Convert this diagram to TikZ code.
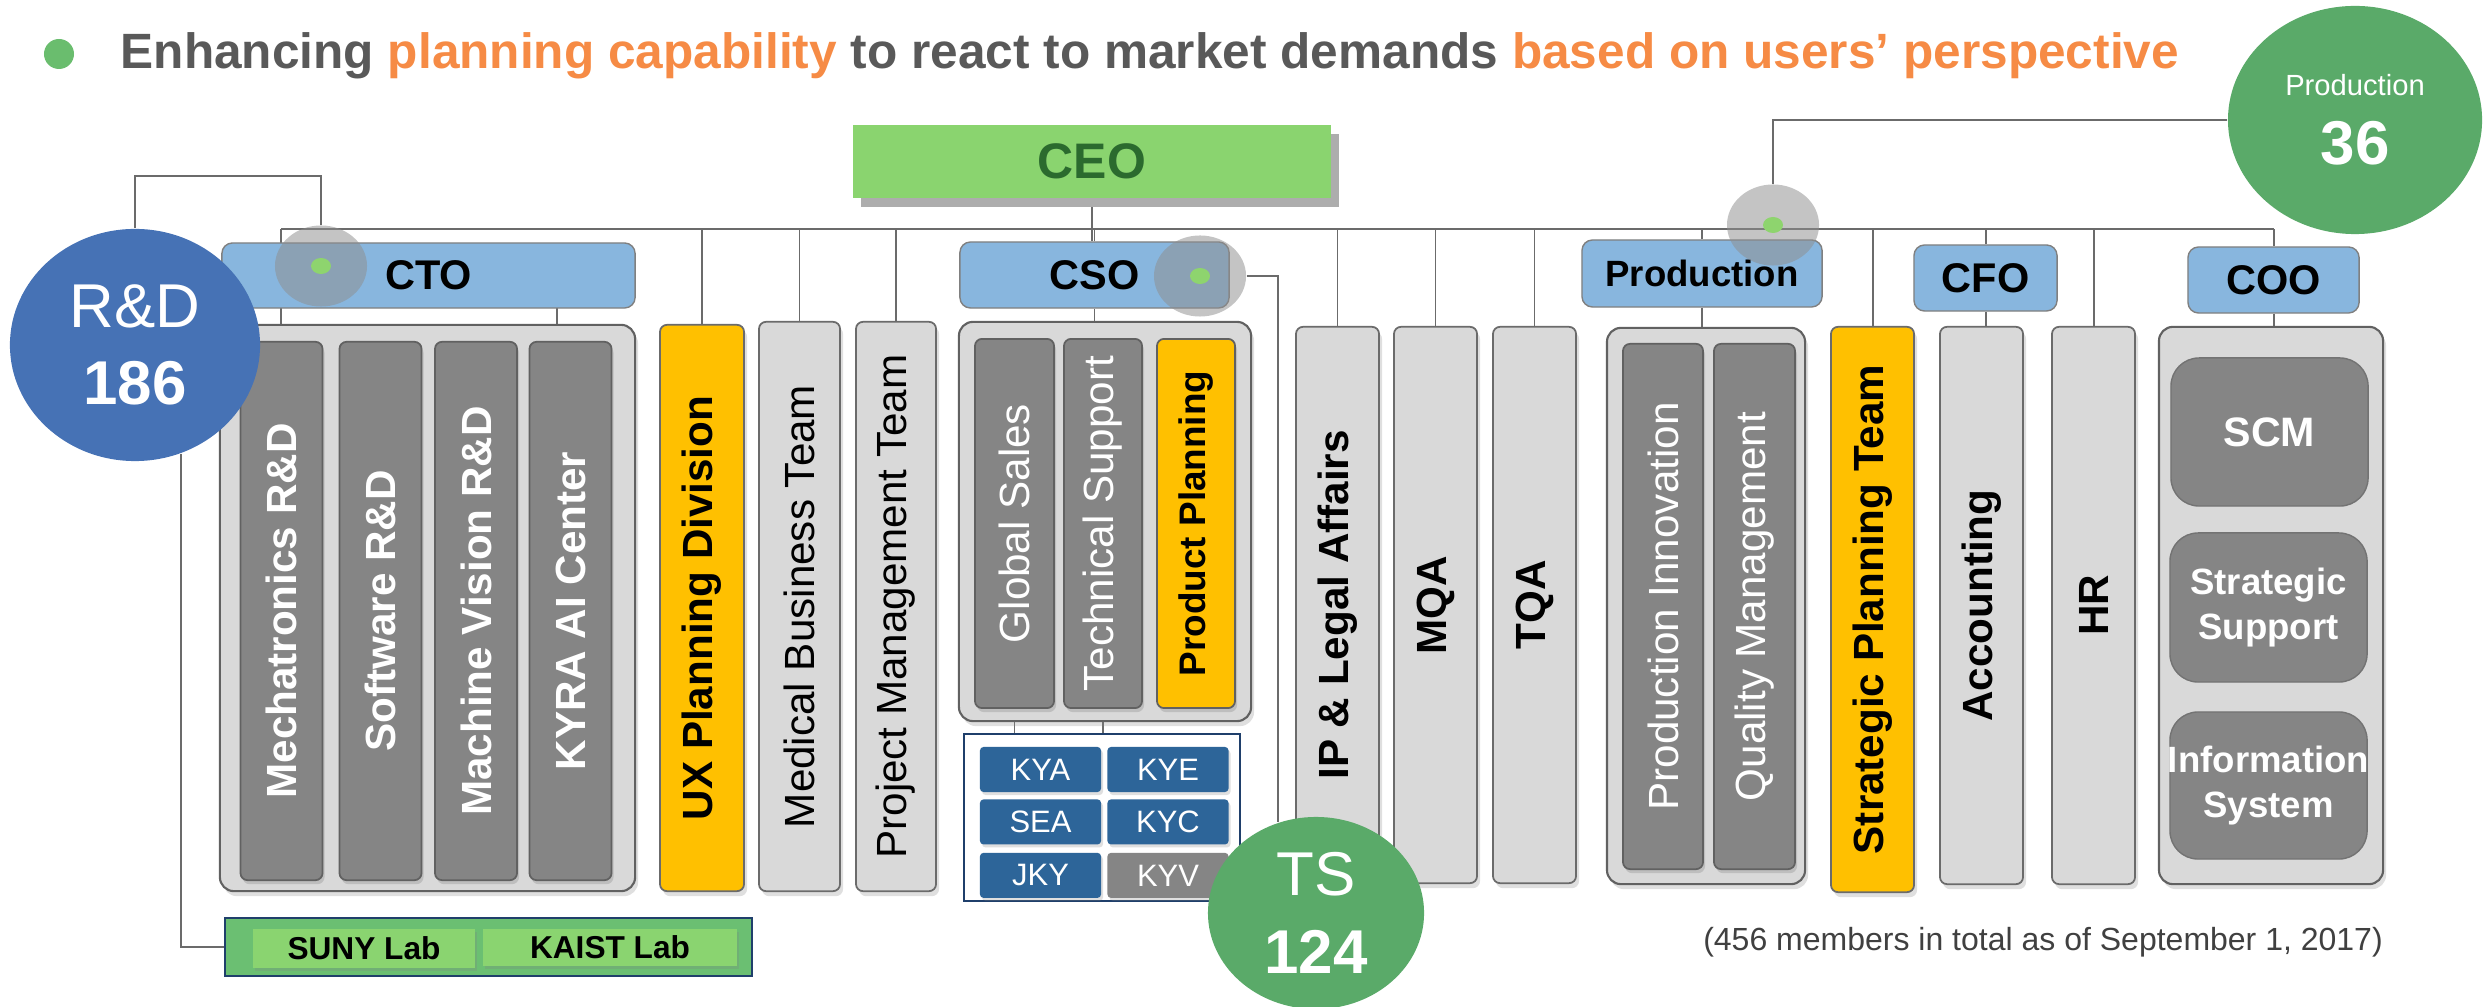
\documentclass[tikz,border=0pt]{standalone}
\usepackage{fontspec}
\setmainfont{Liberation Sans}
\usetikzlibrary{positioning, shapes.geometric, shadows, backgrounds}
\definecolor{titlegray}{HTML}{595959}
\definecolor{accent}{HTML}{F68B45}
\definecolor{bulletgreen}{HTML}{6ABD6E}
\definecolor{ceogreen}{HTML}{8AD46F}
\definecolor{ceotext}{HTML}{2B6A2E}
\definecolor{hdrblue}{HTML}{88B6DE}
\definecolor{panelgray}{HTML}{D9D9D9}
\definecolor{unitgray}{HTML}{858585}
\definecolor{hotyellow}{HTML}{FFC000}
\definecolor{kyblue}{HTML}{2D6599}
\definecolor{kyframe}{HTML}{1F3F6B}
\definecolor{labgreen}{HTML}{6BBF72}
\definecolor{labcell}{HTML}{8AD470}
\definecolor{rdblue}{HTML}{4672B5}
\definecolor{countgreen}{HTML}{5AAA69}
\definecolor{hlgray}{RGB}{142,142,142}
\definecolor{dotgreen}{HTML}{8ED46E}
\definecolor{notegray}{HTML}{404040}
\tikzstyle{link} = [draw=black!58, line width=0.55pt]
\tikzstyle{ceobox} = [rectangle, fill=ceogreen, text=ceotext, inner sep=0, font=\fontsize{14.2}{17}\selectfont\bfseries, drop shadow={shadow xshift=0.08cm, shadow yshift=-0.09cm, fill=black!32, opacity=1}]
\tikzstyle{hdr} = [rectangle, rounded corners=3pt, draw=black!50, fill=hdrblue, inner sep=0, font=\fontsize{11.8}{13}\selectfont\bfseries]
\tikzstyle{group} = [rectangle, rounded corners=4pt, draw=black!62, fill=panelgray, line width=0.6pt, drop shadow={shadow xshift=0.03cm, shadow yshift=-0.05cm, opacity=0.25}]
\tikzstyle{team} = [rectangle, rounded corners=2pt, draw=black!58, fill=panelgray, line width=0.5pt, drop shadow={shadow xshift=0.03cm, shadow yshift=-0.05cm, opacity=0.25}]
\tikzstyle{hot} = [team, fill=hotyellow]
\tikzstyle{unit} = [rectangle, rounded corners=2pt, draw=black!62, fill=unitgray, line width=0.5pt, drop shadow={shadow xshift=0.02cm, shadow yshift=-0.04cm, opacity=0.3}]
\tikzstyle{opsbox} = [rectangle, rounded corners=8pt, draw=black!55, fill=unitgray, text=white, inner sep=0, align=center]
\tikzstyle{vtext} = [rotate=90, inner sep=0, font=\fontsize{12}{14}\selectfont]
\tikzstyle{vtextb} = [rotate=90, inner sep=0, font=\fontsize{12}{14}\selectfont\bfseries]
\tikzstyle{cell} = [rectangle, rounded corners=1pt, fill=kyblue, text=white, inner sep=0, minimum width=1.21cm, minimum height=0.45cm, font=\fontsize{8.8}{10}\selectfont, drop shadow={shadow xshift=0.02cm, shadow yshift=-0.03cm, opacity=0.25}]
\tikzstyle{labcellbox} = [rectangle, fill=labcell, inner sep=0, font=\fontsize{9}{10}\selectfont\bfseries, drop shadow={shadow xshift=0.02cm, shadow yshift=-0.03cm, opacity=0.25}]
\tikzstyle{headcount} = [ellipse, inner sep=0, text=white, align=center]
\tikzstyle{hilite} = [ellipse, fill=hlgray, fill opacity=0.52, inner sep=0, minimum width=0.92cm, minimum height=0.81cm]
\tikzstyle{greendot} = [ellipse, fill=dotgreen, inner sep=0, minimum width=0.2cm, minimum height=0.16cm]
\pgfdeclarelayer{background}
\pgfsetlayers{background,main}

\begin{document}
\begin{tikzpicture}[x=0.01cm, y=-0.01cm]
\useasboundingbox (0,0) rectangle (2486,1007);

% headline
\node (bullet) [circle, fill=bulletgreen, minimum size=0.3cm, inner sep=0] at (59,54) {};
\node (title) [anchor=base west, inner sep=0, text=titlegray, font=\fontsize{14.1}{17}\selectfont\bfseries] at (120,69) {Enhancing \textcolor{accent}{planning capability} to react to market demands \textcolor{accent}{based on users’ perspective}};

% top of the chart
\node (ceo) [ceobox, minimum width=4.78cm, minimum height=0.73cm] at (1092,161.5) {CEO};
\node (cto) [hdr, minimum width=4.13cm, minimum height=0.65cm] at (428.5,275.5) {CTO};
\node (cso) [hdr, minimum width=2.69cm, minimum height=0.66cm] at (1094.5,275) {CSO};
\node (prod) [hdr, font=\fontsize{10.4}{12}\selectfont\bfseries, minimum width=2.4cm, minimum height=0.67cm] at (1702,273.5) {Production};
\node (cfo) [hdr, minimum width=1.43cm, minimum height=0.66cm] at (1985.5,278) {CFO};
\node (coo) [hdr, minimum width=1.71cm, minimum height=0.66cm] at (2273.5,280) {COO};

% CTO
\node (ctogrp) [group, minimum width=4.15cm, minimum height=5.66cm] at (427.5,608) {};
\foreach \n/\x/\lbl in {mech/281.5/Mechatronics R\&D, soft/380.5/Software R\&D, mv/476/Machine Vision R\&D, kyra/570.5/KYRA AI Center}
  \node (\n) [unit, minimum width=0.82cm, minimum height=5.38cm, label={[vtextb, text=white]center:\lbl}] at (\x,611) {};
\node (ux) [hot, minimum width=0.84cm, minimum height=5.66cm, label={[vtextb]center:UX Planning Division}] at (702,608) {};
\node (med) [team, minimum width=0.81cm, minimum height=5.69cm, label={[vtext]center:Medical Business Team}] at (799.5,606.5) {};
\node (pm) [team, minimum width=0.8cm, minimum height=5.69cm, label={[vtext]center:Project Management Team}] at (896,606.5) {};
\node (lab) [rectangle, fill=labgreen, draw=kyframe, line width=0.6pt, minimum width=5.27cm, minimum height=0.58cm] at (488.5,947) {};
\node (suny) [labcellbox, minimum width=2.22cm, minimum height=0.39cm] at (364,948.5) {SUNY Lab};
\node (kaist) [labcellbox, minimum width=2.54cm, minimum height=0.37cm] at (610,947.5) {KAIST Lab};

% CSO
\node (csogrp) [group, minimum width=2.92cm, minimum height=3.99cm] at (1105,521.5) {};
\node (gs) [unit, minimum width=0.79cm, minimum height=3.69cm, label={[vtext, text=white]center:Global Sales}] at (1014.5,523.5) {};
\node (tsup) [unit, minimum width=0.78cm, minimum height=3.69cm, label={[vtext, text=white]center:Technical Support}] at (1103,523.5) {};
\node (pp) [unit, fill=hotyellow, minimum width=0.78cm, minimum height=3.69cm, label={[vtextb, font=\fontsize{10.5}{12}\selectfont\bfseries]center:Product Planning}] at (1196,523.5) {};
\node (ky) [rectangle, fill=white, draw=kyframe, line width=0.6pt, minimum width=2.76cm, minimum height=1.67cm] at (1102,817.5) {};
\node (kya) [cell] at (1040.5,769.5) {KYA};
\node (kye) [cell, right=0.05cm of kya] {KYE};
\node (sea) [cell, below=0.06cm of kya] {SEA};
\node (kyc) [cell, right=0.05cm of sea] {KYC};
\node (jky) [cell, below=0.07cm of sea] {JKY};
\node (kyv) [cell, fill=unitgray, right=0.05cm of jky] {KYV};

% staff and production
\node (ip) [team, minimum width=0.83cm, minimum height=5.56cm, label={[vtextb]center:IP \& Legal Affairs}] at (1337.5,605) {};
\node (mqa) [team, minimum width=0.83cm, minimum height=5.56cm, label={[vtextb]center:MQA}] at (1435.5,605) {};
\node (tqa) [team, minimum width=0.83cm, minimum height=5.56cm, label={[vtextb]center:TQA}] at (1534.5,605) {};
\node (prodgrp) [group, minimum width=1.98cm, minimum height=5.56cm] at (1706,606) {};
\node (pinno) [unit, minimum width=0.8cm, minimum height=5.25cm, label={[vtext, text=white]center:Production Innovation}] at (1663,606.5) {};
\node (qm) [unit, minimum width=0.81cm, minimum height=5.25cm, label={[vtext, text=white]center:Quality Management}] at (1754.5,606.5) {};
\node (spt) [hot, minimum width=0.83cm, minimum height=5.65cm, label={[vtextb]center:Strategic Planning Team}] at (1872.5,609.5) {};
\node (acc) [team, minimum width=0.83cm, minimum height=5.57cm, label={[vtextb]center:Accounting}] at (1981.5,605.5) {};
\node (hr) [team, minimum width=0.83cm, minimum height=5.57cm, label={[vtextb]center:HR}] at (2093.5,605.5) {};

% COO
\node (coogrp) [group, minimum width=2.24cm, minimum height=5.57cm] at (2271,605.5) {};
\node (scm) [opsbox, font=\fontsize{11.7}{13}\selectfont\bfseries, minimum width=1.97cm, minimum height=1.48cm] at (2269.5,432) {SCM};
\node (ssup) [opsbox, font=\fontsize{10.4}{13}\selectfont\bfseries, minimum width=1.97cm, minimum height=1.49cm] at (2268.5,607.5) {Strategic\\Support};
\node (isys) [opsbox, font=\fontsize{10.4}{13}\selectfont\bfseries, minimum width=1.97cm, minimum height=1.47cm] at (2268.5,785.5) {\makebox[0pt]{Information}\\System};

\node (note) [anchor=base, inner sep=0, text=notegray, font=\fontsize{9.1}{11}\selectfont] at (2043,950) {(456 members in total as of September 1, 2017)};

% highlights and head counts
\node (ctohl) [hilite] at (321,266) {};
\node (ctodot) [greendot] at (ctohl) {};
\node (csohl) [hilite] at (1200,276) {};
\node (csodot) [greendot] at (csohl) {};
\node (prodhl) [hilite] at (1773,225) {};
\node (proddot) [greendot] at (prodhl) {};
\node (rd) [headcount, fill=rdblue, minimum width=2.5cm, minimum height=2.32cm, font=\fontsize{17.6}{22}\selectfont] at (135,345) {R\&D\\\textbf{186}};
\node (ts) [headcount, fill=countgreen, minimum width=2.16cm, minimum height=1.92cm, font=\fontsize{17.6}{22}\selectfont] at (1316,913) {TS\\\textbf{124}};
\node (pc) [headcount, fill=countgreen, minimum width=2.54cm, minimum height=2.28cm, font=\fontsize{17.6}{19.6}\selectfont] at (2355,120) {{\fontsize{8.3}{10}\selectfont Production}\\\textbf{36}};

% connectors
\begin{pgfonlayer}{background}
\coordinate (busL) at (281,229);
\coordinate (ctoR) at (557,308);
\draw [link] (busL) -- (busL -| coo.north);
\draw [link] (busL) -- (busL |- ctogrp.north);
\draw [link] (ctoR) -- (ctoR |- ctogrp.north);
\draw [link] (ceo.south) -- (ceo.south |- cso.north);
\foreach \n in {ux,med,pm,ip,mqa,tqa,spt,hr}
  \draw [link] (\n.north) -- (\n.north |- busL);
\foreach \h/\g in {cso/csogrp, prod/prodgrp, cfo/acc, coo/coogrp} {
  \draw [link] (\h.north) -- (\h.north |- busL);
  \draw [link] (\h.south) -- (\h.south |- \g.north);
}
\draw [link] (gs.south) -- (gs.south |- ky.north);
\draw [link] (tsup.south) -- (tsup.south |- ky.north);
\draw [link] (rd.north) -- ++(0,-52) -| (ctohl.north);
\draw [link] (rd.-67) |- (lab.west);
\draw [link] (csohl.east) -| (ts.113);
\draw [link] (prodhl.north) |- (pc.west);
\end{pgfonlayer}
\end{tikzpicture}
\end{document}
